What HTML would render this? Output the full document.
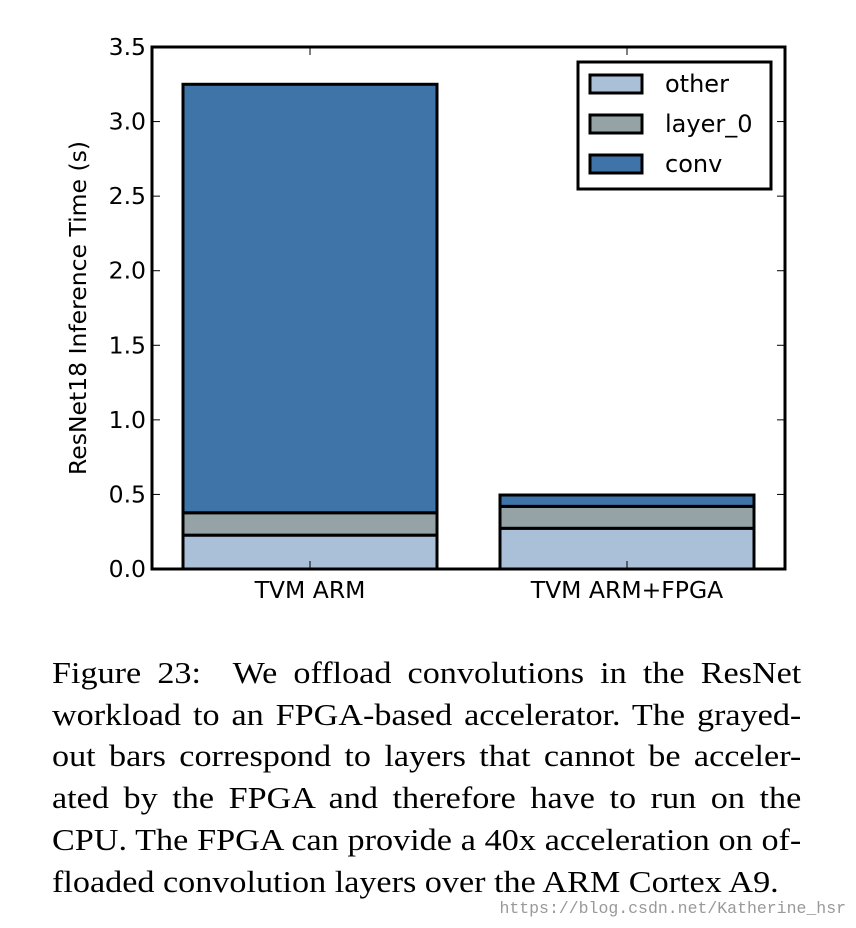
<!DOCTYPE html>
<html><head><meta charset="utf-8"><style>
body{margin:0;background:#fff;width:856px;height:928px;overflow:hidden;position:relative}
#cap{position:absolute;left:52px;top:653px;width:669px;font-family:"Liberation Serif",serif;font-size:30.5px;line-height:41.7px;color:#000;transform:scaleX(1.12);transform-origin:0 0}
#cap span{display:block;text-align:justify;text-align-last:justify;white-space:nowrap}
#cap span.last{text-align-last:left}
#wm{position:absolute;right:10px;top:899px;font-family:"Liberation Mono",monospace;font-size:16.5px;color:#999}
</style></head><body>
<svg id="chart" width="856" height="640" style="position:absolute;left:0;top:0" font-family="DejaVu Sans, sans-serif"></svg>
<div id="cap"><span>Figure 23:&nbsp; We offload convolutions in the ResNet</span><span>workload to an FPGA-based accelerator. The grayed-</span><span>out bars correspond to layers that cannot be acceler-</span><span>ated by the FPGA and therefore have to run on the</span><span>CPU. The FPGA can provide a 40x acceleration on of-</span><span class="last">floaded convolution layers over the ARM Cortex A9.</span></div>
<div id="wm">https://blog.csdn.net/Katherine_hsr</div>
<script>
const categories=["TVM ARM","TVM ARM+FPGA"];
const seriesNames=["other","layer_0","conv"];
const otherVals=[0.227,0.273];
const layer0Vals=[0.150,0.147];
const convVals=[2.873,0.076];
const yTicks=[0.0,0.5,1.0,1.5,2.0,2.5,3.0,3.5];
const colors=["#aac0d8","#95a3a6","#3e74a8"];
const svg=document.getElementById('chart');
const NS="http://www.w3.org/2000/svg";
const L=152,R=785,T=47,B=569,yMax=3.5;
const y=v=>B-(v/yMax)*(B-T);
const barW=254, centers=[310,627];
function mk(t,a){const e=document.createElementNS(NS,t);for(const k in a)e.setAttribute(k,a[k]);svg.appendChild(e);return e;}
const series=[otherVals,layer0Vals,convVals];
categories.forEach((c,i)=>{
  let base=0;
  series.forEach((s,j)=>{
    const r=mk('rect',{x:centers[i]-barW/2,y:y(base+s[i]),width:barW,height:y(base)-y(base+s[i]),fill:colors[j],stroke:'#000','stroke-width':3});
    
    
    base+=s[i];
  });
  const tk=mk('line',{x1:centers[i],x2:centers[i],y1:B,y2:B-8,stroke:'#000','stroke-width':1});
  
  
  const tk2=mk('line',{x1:centers[i],x2:centers[i],y1:T,y2:T+8,stroke:'#000','stroke-width':1});
  
  
  const t=mk('text',{x:centers[i],y:598,'text-anchor':'middle','font-size':23.5});
  t.textContent=c;
  
  
});
yTicks.forEach(v=>{
  const l=mk('line',{x1:L,x2:L+8,y1:y(v),y2:y(v),stroke:'#000','stroke-width':1});
  
  
  const l2=mk('line',{x1:R-8,x2:R,y1:y(v),y2:y(v),stroke:'#000','stroke-width':1});
  
  
  const t=mk('text',{x:L-6,y:y(v)+8,'text-anchor':'end','font-size':23.5});
  t.textContent=v.toFixed(1);
  
  
});
const fr=mk('rect',{x:L,y:T,width:R-L,height:B-T,fill:'none',stroke:'#000','stroke-width':3});


const yt=mk('text',{x:0,y:0,'text-anchor':'middle','font-size':23.5,transform:'translate(86,308) rotate(-90)'});
yt.textContent='ResNet18 Inference Time (s)';


const lg=mk('rect',{x:578,y:62,width:193,height:127,fill:'#fff',stroke:'#000','stroke-width':3});


seriesNames.forEach((n,j)=>{
  const py=75+j*40;
  const p=mk('rect',{x:590,y:py,width:52,height:18,fill:colors[j],stroke:'#000','stroke-width':3});
  
  
  const t=mk('text',{x:665,y:py+17,'font-size':24});
  t.textContent=n;
  
  
});
</script>
</body></html>
